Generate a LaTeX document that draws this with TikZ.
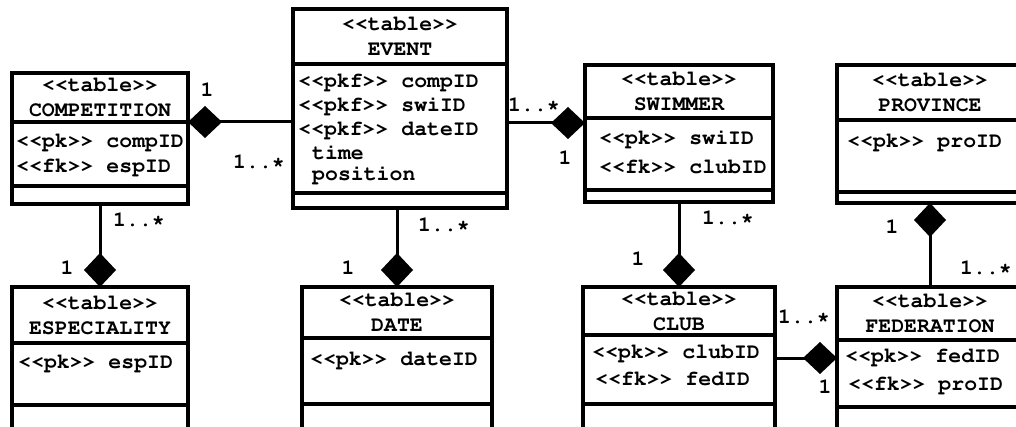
\documentclass[tikz,border=0pt]{standalone}
\usepackage[T1]{fontenc}
\usepackage{courier}
\usetikzlibrary{positioning,arrows.meta}

\begin{document}
\begin{tikzpicture}[x=1pt,y=-1pt,
    box/.style={draw,line width=3.5pt,inner sep=0pt,outer sep=0pt},
    head/.style={box,anchor=north west,align=center,
      font=\ttfamily\bfseries\fontsize{21.5}{25}\selectfont},
    rows/.style={inner sep=0pt,anchor=north west,align=left,
      font=\ttfamily\bfseries\fontsize{21.5}{25}\selectfont},
    mult/.style={inner sep=0pt,font=\ttfamily\bfseries\fontsize{21.5}{25}\selectfont},
    agg/.style={line width=3pt,-{Diamond[length=34pt,width=32pt]}}]
    \useasboundingbox (0,0) rectangle (1016,427);
    \clip (0,0) rectangle (1016,427);

    % top row
    \node[head,minimum width=176pt,minimum height=49pt] (comph) at (12,73) {<{}<table>{}>\\COMPETITION};
    \node[box,minimum width=176pt,minimum height=64pt,below=0pt of comph] (compb) {};
    \node[box,minimum width=176pt,minimum height=18pt,below=0pt of compb] (compf) {};
    \node[rows,below right=12pt and 4pt of compb.north west] (compr) {<{}<pk>{}> compID\\<{}<fk>{}> espID};

    \node[head,minimum width=214pt,minimum height=55pt] (evth) at (293,9) {<{}<table>{}>\\EVENT};
    \node[box,minimum width=214pt,minimum height=129pt,below=0pt of evth] (evtb) {};
    \node[box,minimum width=214pt,minimum height=15pt,below=0pt of evtb] (evtf) {};
    \node[rows,below right=10pt and 5pt of evtb.north west,
      font=\ttfamily\bfseries\fontsize{21.5}{24}\selectfont] (evtr) {<{}<pkf>{}> compID\\<{}<pkf>{}> swiID\\<{}<pkf>{}> dateID};
    \node[rows,below right=81pt and 19pt of evtb.north west,
      font=\ttfamily\bfseries\fontsize{21.5}{21}\selectfont] (evts) {time\\position};

    \node[head,minimum width=188pt,minimum height=53pt] (swimh) at (585,65) {<{}<table>{}>\\SWIMMER};
    \node[box,minimum width=188pt,minimum height=72pt,below=0pt of swimh] (swimb) {};
    \node[box,minimum width=188pt,minimum height=12pt,below=0pt of swimb] (swimf) {};
    \node[rows,below right=12pt and 14pt of swimb.north west,
      font=\ttfamily\bfseries\fontsize{21.5}{29}\selectfont] (swimr) {<{}<pk>{}> swiID\\<{}<fk>{}> clubID};

    \node[head,minimum width=186pt,minimum height=55pt] (provh) at (837,65) {<{}<table>{}>\\PROVINCE};
    \node[box,minimum width=186pt,minimum height=72pt,below=0pt of provh] (provb) {};
    \node[box,minimum width=186pt,minimum height=11pt,below=0pt of provb] (provf) {};
    \node[rows,below right=14pt and 10pt of provb.north west] (provr) {<{}<pk>{}> proID};

    % bottom row
    \node[head,minimum width=176pt,minimum height=56pt] (esph) at (12,287) {<{}<table>{}>\\ESPECIALITY};
    \node[box,minimum width=176pt,minimum height=62pt,below=0pt of esph] (espb) {};
    \node[box,minimum width=176pt,minimum height=40pt,below=0pt of espb] (espf) {};
    \node[rows,below right=12pt and 6pt of espb.north west] (espr) {<{}<pk>{}> espID};

    \node[head,minimum width=190pt,minimum height=51pt] (dateh) at (302,287) {<{}<table>{}>\\DATE};
    \node[box,minimum width=190pt,minimum height=66pt,below=0pt of dateh] (dateb) {};
    \node[box,minimum width=190pt,minimum height=40pt,below=0pt of dateb] (datef) {};
    \node[rows,below right=14pt and 8pt of dateb.north west] (dater) {<{}<pk>{}> dateID};

    \node[head,minimum width=192pt,minimum height=48pt] (clubh) at (583,287) {<{}<table>{}>\\CLUB};
    \node[box,minimum width=192pt,minimum height=69pt,below=0pt of clubh] (clubb) {};
    \node[box,minimum width=192pt,minimum height=40pt,below=0pt of clubb] (clubf) {};
    \node[rows,below right=10pt and 9pt of clubb.north west,
      font=\ttfamily\bfseries\fontsize{21.5}{27}\selectfont] (clubr) {<{}<pk>{}> clubID\\\hspace{3pt}<{}<fk>{}> fedID};

    \node[head,minimum width=186pt,minimum height=53pt] (fedh) at (837,287) {<{}<table>{}>\\FEDERATION};
    \node[box,minimum width=186pt,minimum height=67pt,below=0pt of fedh] (fedb) {};
    \node[box,minimum width=186pt,minimum height=40pt,below=0pt of fedb] (fedf) {};
    \node[rows,below right=9pt and 8pt of fedb.north west,
      font=\ttfamily\bfseries\fontsize{21.5}{28}\selectfont] (fedr) {<{}<pk>{}> fedID\\\hspace{3pt}<{}<fk>{}> proID};

    % connectors
    \coordinate (swimin) at ([yshift=-5pt]swimh.south west);
    \coordinate (fedin) at ([yshift=-18pt]fedb.north west);
    \draw[agg] (evtb.west |- comph.south east) -- (comph.south east);
    \draw[agg] (swimin -| evtb.east) -- (swimin);
    \draw[agg] (compf.south) -- (esph.north);
    \draw[agg] (evtf.south -| dateh.north) -- (dateh.north);
    \draw[agg] (swimf.south) -- (clubh.north);
    \draw[agg] (fedh.north -| provf.south) -- (provf.south);
    \draw[agg] (fedin -| clubb.east) -- (fedin);

    % multiplicities
    \node[mult] (m1) at (207,90) {1};
    \node[mult] (m2) at (259,162) {1..*};
    \node[mult] (m3) at (534,105) {1..*};
    \node[mult] (m4) at (565,158) {1};
    \node[mult] (m5) at (139,220) {1..*};
    \node[mult] (m6) at (67,268) {1};
    \node[mult] (m7) at (444,225) {1..*};
    \node[mult] (m8) at (348,268) {1};
    \node[mult] (m9) at (728,218) {1..*};
    \node[mult] (m10) at (638,259) {1};
    \node[mult] (m11) at (892,227) {1};
    \node[mult] (m12) at (986,268) {1..*};
    \node[mult] (m13) at (804,317) {1..*};
    \node[mult] (m14) at (825,387) {1};
\end{tikzpicture}
\end{document}
